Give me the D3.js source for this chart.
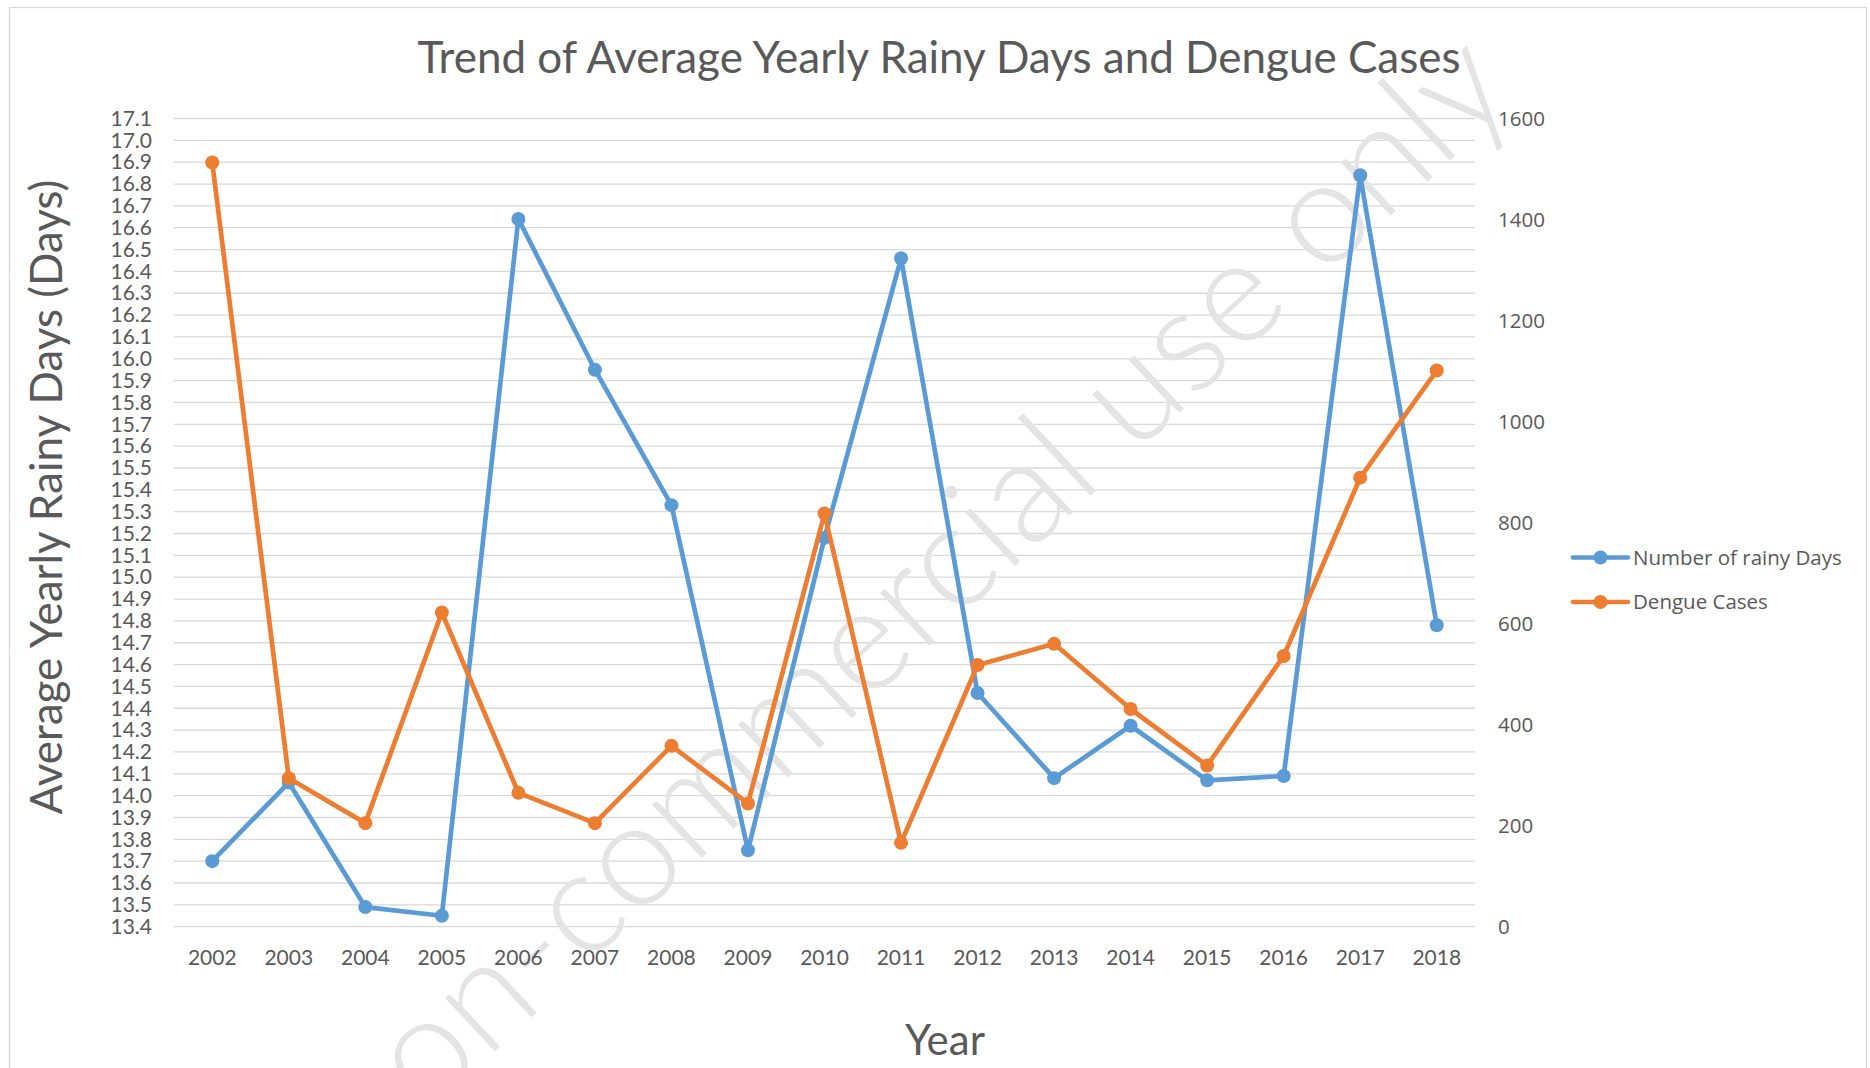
<!DOCTYPE html>
<html>
<head>
<meta charset="utf-8">
<script src="https://cdn.jsdelivr.net/npm/d3@7"></script>
<style>
  body { margin: 0; background: #fff; }
  svg { display: block; }
</style>
</head>
<body>
<svg id="chart"></svg>
<script>
const years = ['2002', '2003', '2004', '2005', '2006', '2007', '2008', '2009', '2010',
  '2011', '2012', '2013', '2014', '2015', '2016', '2017', '2018'];
const rainyDays = [13.70, 14.06, 13.49, 13.45, 16.64, 15.95, 15.33, 13.75, 15.18,
  16.46, 14.47, 14.08, 14.32, 14.07, 14.09, 16.84, 14.78];
const dengueCases = [1513, 294, 205, 622, 265, 205, 358, 244, 818,
  166, 518, 560, 431, 319, 536, 889, 1101];
const leftTicks = ['13.4', '13.5', '13.6', '13.7', '13.8', '13.9', '14.0', '14.1', '14.2', '14.3',
  '14.4', '14.5', '14.6', '14.7', '14.8', '14.9', '15.0', '15.1', '15.2', '15.3',
  '15.4', '15.5', '15.6', '15.7', '15.8', '15.9', '16.0', '16.1', '16.2', '16.3',
  '16.4', '16.5', '16.6', '16.7', '16.8', '16.9', '17.0', '17.1'];
const rightTicks = [0, 200, 400, 600, 800, 1000, 1200, 1400, 1600];
const seriesNames = ['Number of rainy Days', 'Dengue Cases'];
const colors = ['#5b9bd5', '#ed7d31'];

const W = 1870, H = 1068;
const plot = { left: 174, right: 1475, top: 118.5, bottom: 926.7 };
const textColor = '#595959';
const calibriLike = 'Lato, "Open Sans", sans-serif';
const segoeLike = '"Open Sans", "Noto Sans", sans-serif';

const svg = d3.select('#chart')
  .attr('width', W)
  .attr('height', H);

svg.append('rect')
  .attr('x', 9.5).attr('y', 7.5)
  .attr('width', 1857).attr('height', 1100)
  .attr('fill', '#fff')
  .attr('stroke', '#d9d9d9')
  .attr('stroke-width', 1.3);

const x = d3.scaleBand()
  .domain(years)
  .range([plot.left, plot.right]);

const yLeft = d3.scaleLinear()
  .domain([+leftTicks[0], +leftTicks[leftTicks.length - 1]])
  .range([plot.bottom, plot.top]);

const yRight = d3.scaleLinear()
  .domain([rightTicks[0], rightTicks[rightTicks.length - 1]])
  .range([plot.bottom, plot.top]);

// gridlines (one per left tick)
svg.append('g')
  .selectAll('line')
  .data(leftTicks)
  .enter()
  .append('line')
  .attr('x1', plot.left)
  .attr('x2', plot.right)
  .attr('y1', d => yLeft(+d))
  .attr('y2', d => yLeft(+d))
  .attr('stroke', '#d9d9d9')
  .attr('stroke-width', 1.3);

// watermark
svg.append('text')
  .attr('transform', 'translate(1518,97) rotate(-43)')
  .attr('text-anchor', 'end')
  .attr('font-family', calibriLike)
  .attr('font-weight', 300)
  .attr('font-size', 146)
  .attr('fill', '#e4e4e4')
  .text('non-commercial use only');

// left axis
const leftAxis = svg.append('g')
  .attr('transform', `translate(${plot.left},0)`)
  .call(d3.axisLeft(yLeft)
    .tickValues(leftTicks.map(Number))
    .tickFormat(d3.format('.1f'))
    .tickSize(0)
    .tickPadding(22));
leftAxis.select('.domain').remove();
leftAxis.selectAll('text')
  .attr('font-family', calibriLike)
  .attr('font-size', 21)
  .attr('fill', textColor);

// right axis
const rightAxis = svg.append('g')
  .attr('transform', `translate(${plot.right},0)`)
  .call(d3.axisRight(yRight)
    .tickValues(rightTicks)
    .tickFormat(d3.format('d'))
    .tickSize(0)
    .tickPadding(23));
rightAxis.select('.domain').remove();
rightAxis.selectAll('text')
  .attr('font-family', segoeLike)
  .attr('font-size', 20.5)
  .attr('fill', textColor);

// bottom axis
const bottomAxis = svg.append('g')
  .attr('transform', `translate(0,${plot.bottom})`)
  .call(d3.axisBottom(x).tickSize(0).tickPadding(23));
bottomAxis.select('.domain').remove();
bottomAxis.selectAll('text')
  .attr('font-family', calibriLike)
  .attr('font-size', 21)
  .attr('fill', textColor);

// lines and markers
const series = [
  { values: rainyDays, y: yLeft },
  { values: dengueCases, y: yRight },
];

series.forEach((s, i) => {
  const line = d3.line()
    .x((d, j) => x(years[j]) + x.bandwidth() / 2)
    .y(d => s.y(d));

  svg.append('path')
    .datum(s.values)
    .attr('d', line)
    .attr('fill', 'none')
    .attr('stroke', colors[i])
    .attr('stroke-width', 4.7)
    .attr('stroke-linejoin', 'round');

  svg.append('g')
    .selectAll('circle')
    .data(s.values)
    .enter()
    .append('circle')
    .attr('cx', (d, j) => x(years[j]) + x.bandwidth() / 2)
    .attr('cy', d => s.y(d))
    .attr('r', 7)
    .attr('fill', colors[i]);
});

// titles
svg.append('text')
  .attr('x', 939)
  .attr('y', 73)
  .attr('text-anchor', 'middle')
  .attr('font-family', calibriLike)
  .attr('font-size', 44)
  .attr('fill', textColor)
  .text('Trend of Average Yearly Rainy Days and Dengue Cases');

svg.append('text')
  .attr('transform', 'translate(62,497) rotate(-90)')
  .attr('text-anchor', 'middle')
  .attr('font-family', calibriLike)
  .attr('font-size', 44)
  .attr('fill', textColor)
  .text('Average Yearly Rainy Days (Days)');

svg.append('text')
  .attr('x', 945)
  .attr('y', 1055)
  .attr('text-anchor', 'middle')
  .attr('font-family', calibriLike)
  .attr('font-size', 42)
  .attr('fill', textColor)
  .text('Year');

// legend
const legend = svg.append('g')
  .selectAll('g')
  .data(seriesNames)
  .enter()
  .append('g')
  .attr('transform', (d, i) => `translate(1573,${557.5 + i * 44.5})`);

legend.append('line')
  .attr('x1', 0).attr('x2', 55)
  .attr('stroke', (d, i) => colors[i])
  .attr('stroke-width', 4.7)
  .attr('stroke-linecap', 'round');

legend.append('circle')
  .attr('cx', 27.5)
  .attr('r', 7)
  .attr('fill', (d, i) => colors[i]);

legend.append('text')
  .attr('x', 60)
  .attr('dy', '0.35em')
  .attr('font-family', segoeLike)
  .attr('font-size', 20.5)
  .attr('fill', textColor)
  .text(d => d);
</script>
</body>
</html>
